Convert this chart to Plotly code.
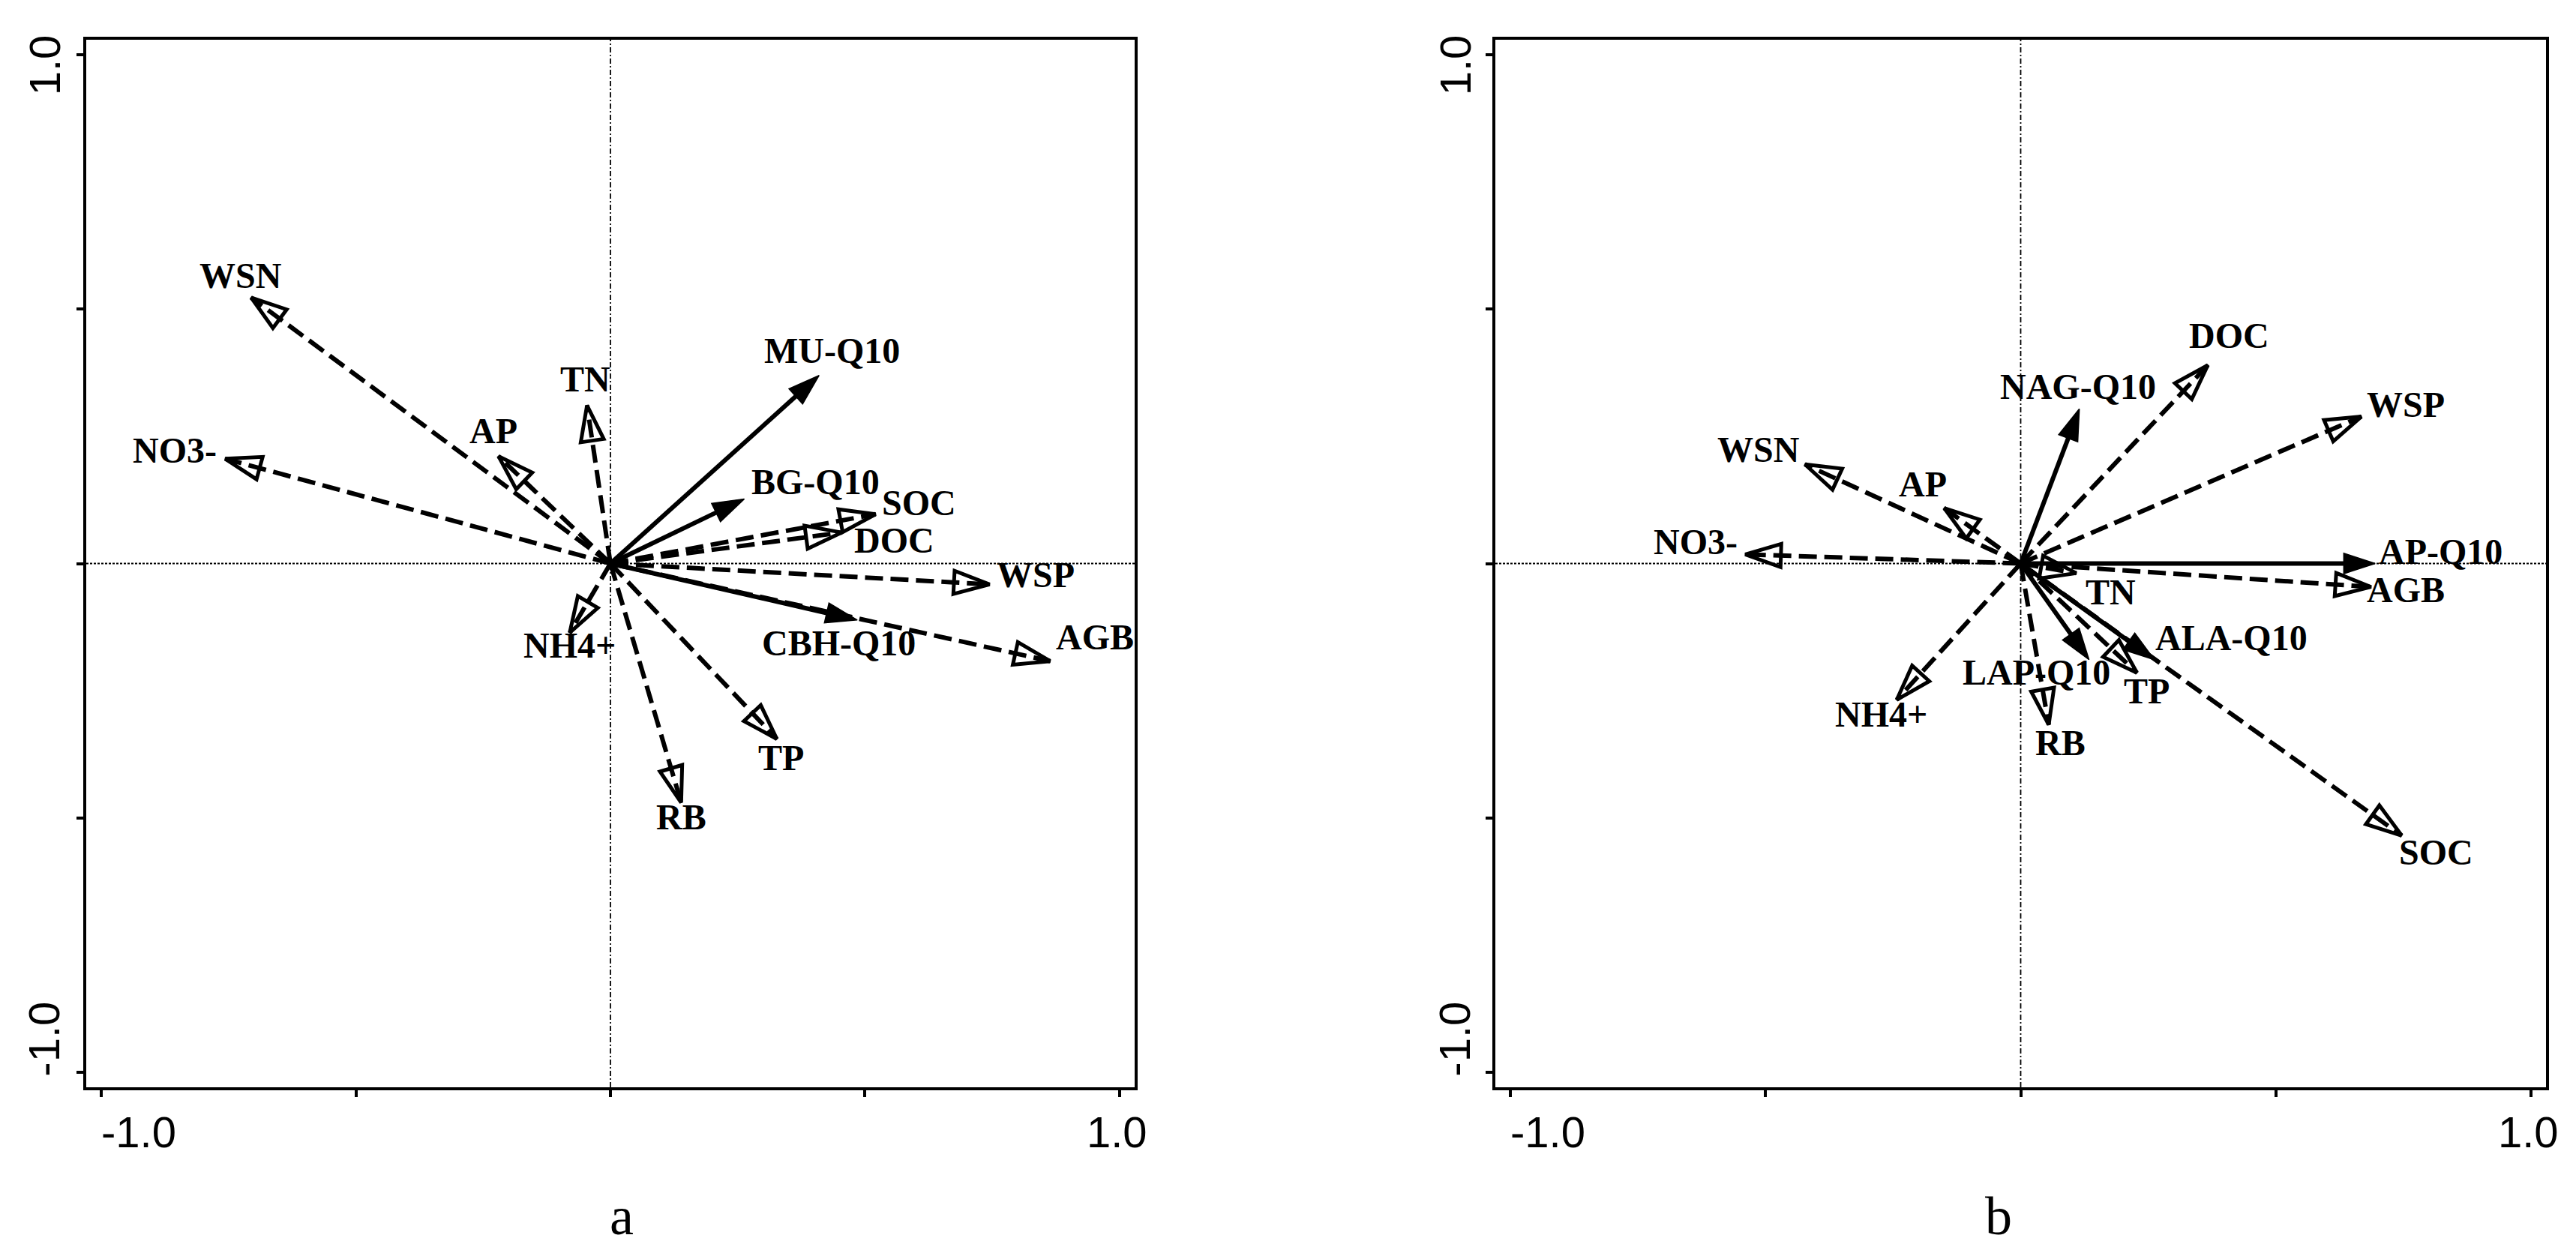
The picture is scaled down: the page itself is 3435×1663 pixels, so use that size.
import plotly.graph_objects as go

W, H = 3435, 1663

# ---------------- data ----------------
a_names = ["WSN", "NO3-", "AP", "TN", "MU-Q10", "BG-Q10", "SOC", "DOC",
           "WSP", "CBH-Q10", "AGB", "NH4+", "TP", "RB"]
a_x = [-0.706, -0.757, -0.220, -0.046, 0.410, 0.263, 0.521, 0.454,
       0.745, 0.485, 0.864, -0.080, 0.327, 0.139]
a_y = [0.523, 0.206, 0.211, 0.311, 0.370, 0.127, 0.097, 0.061,
       -0.041, -0.111, -0.192, -0.136, -0.345, -0.470]

b_names = ["DOC", "NAG-Q10", "WSP", "WSN", "AP", "NO3-", "AP-Q10", "AGB",
           "TN", "ALA-Q10", "TP", "LAP-Q10", "RB", "NH4+", "SOC"]
b_x = [0.367, 0.115, 0.668, -0.423, -0.150, -0.540, 0.695, 0.687,
       0.109, 0.262, 0.228, 0.134, 0.055, -0.243, 0.747]
b_y = [0.390, 0.304, 0.289, 0.195, 0.109, 0.018, 0.0, -0.046,
       -0.019, -0.189, -0.215, -0.189, -0.317, -0.268, -0.535]

panel_titles = ["a", "b"]
tick_vals = [-1.0, -0.5, 0.0, 0.5, 1.0]
tick_label_text = ["-1.0", "1.0"]

# ---------------- label placement (pixel offsets from arrow tip) ----------------
a_label_off = {"WSN": (-14, -19), "NO3-": (-67, -1), "AP": (-7, -24), "TN": (-2, -25),
               "MU-Q10": (17, -23), "BG-Q10": (95, -13), "SOC": (58, -5), "DOC": (70, 20),
               "WSP": (61, -3), "CBH-Q10": (-25, 41), "AGB": (60, -22), "NH4+": (0, 27),
               "TP": (6, 35), "RB": (0, 29)}
b_label_off = {"DOC": (28, -30), "NAG-Q10": (-2, -20), "WSP": (59, -6), "WSN": (-62, -10),
               "AP": (-28, -22), "NO3-": (-66, -7), "AP-Q10": (87, -6), "AGB": (46, 14),
               "TN": (46, 35), "ALA-Q10": (103, -19), "TP": (13, 34), "LAP-Q10": (-70, 27),
               "RB": (16, 34), "NH4+": (-21, 29), "SOC": (46, 32)}
LABEL_RAISE = 10  # plotly centres the text box slightly below the cap-height centre

RNG = [-1.03, 1.03]
xdom = [[107 / W, 1505 / W], [1986 / W, 3387 / W]]
ydom = [1 - 1442 / H, 1 - 45 / H]

LW = 6
HEAD = 50
LABEL_FONT = dict(family="Liberation Serif, Times New Roman, serif", size=48, color="black")
TICK_FONT = dict(family="Liberation Sans, Arial, sans-serif", size=58, color="black")

fig = go.Figure()


def add_panel(names, xs, ys, offs, k):
    xa = "x" if k == 0 else "x2"
    ya = "y" if k == 0 else "y2"
    # reference lines through origin
    fig.add_shape(type="line", xref=xa, yref=ya, x0=RNG[0], x1=RNG[1], y0=0, y1=0,
                  line=dict(color="black", width=1.8, dash="3px,2px"), layer="below")
    fig.add_shape(type="line", xref=xa, yref=ya, x0=0, x1=0, y0=RNG[0], y1=RNG[1],
                  line=dict(color="black", width=1.8, dash="7px,3px,2px,3px"), layer="below")
    # dashed (environmental) first, then solid (Q10)
    order = [i for i in range(len(names)) if not names[i].endswith("Q10")] + \
            [i for i in range(len(names)) if names[i].endswith("Q10")]
    for i in order:
        solid = names[i].endswith("Q10")
        fig.add_trace(go.Scatter(
            x=[0, xs[i]], y=[0, ys[i]], xaxis=xa, yaxis=ya,
            mode="lines+markers", showlegend=False, hoverinfo="skip",
            line=dict(color="black", width=LW, dash="solid" if solid else "24px,10px"),
            marker=dict(symbol="arrow" if solid else "arrow-open",
                        size=[0, HEAD if not solid else HEAD - 6], angleref="previous",
                        color="black", opacity=1,
                        line=dict(color="black", width=5 if not solid else 1.5)),
        ))
        dx, dy = offs[names[i]]
        fig.add_annotation(x=xs[i], y=ys[i], xref=xa, yref=ya, text="<b>%s</b>" % names[i],
                           showarrow=False, xshift=dx, yshift=-dy + LABEL_RAISE,
                           xanchor="center", yanchor="middle", font=LABEL_FONT)
    # tick labels
    fig.add_annotation(x=tick_vals[0], y=1 - 1501 / H, xref=xa, yref="paper",
                       text=tick_label_text[0], showarrow=False, xshift=50,
                       xanchor="center", yanchor="middle", font=TICK_FONT)
    fig.add_annotation(x=tick_vals[-1], y=1 - 1501 / H, xref=xa, yref="paper",
                       text=tick_label_text[1], showarrow=False, xshift=-3,
                       xanchor="center", yanchor="middle", font=TICK_FONT)
    xlab = (51 / W) if k == 0 else (1932 / W)
    fig.add_annotation(x=xlab, y=tick_vals[-1], xref="paper", yref=ya,
                       text=tick_label_text[1], showarrow=False, yshift=-14, textangle=-90,
                       xanchor="center", yanchor="middle", font=TICK_FONT)
    fig.add_annotation(x=xlab, y=tick_vals[0], xref="paper", yref=ya,
                       text=tick_label_text[0], showarrow=False, yshift=44, textangle=-90,
                       xanchor="center", yanchor="middle", font=TICK_FONT)
    # panel title
    tx = (821 / W) if k == 0 else (2657 / W)
    fig.add_annotation(x=tx, y=1 - 1614 / H, xref="paper", yref="paper",
                       text=panel_titles[k], showarrow=False, xanchor="center",
                       yanchor="middle",
                       font=dict(family="Liberation Serif, Times New Roman, serif",
                                 size=72, color="black"))


add_panel(a_names, a_x, a_y, a_label_off, 0)
add_panel(b_names, b_x, b_y, b_label_off, 1)

axis_common = dict(range=RNG, showgrid=False, zeroline=False, showline=True, mirror=True,
                   linecolor="black", linewidth=3.5, ticks="outside", ticklen=9,
                   tickwidth=3.5, tickcolor="black", tickvals=tick_vals,
                   showticklabels=False, fixedrange=True)

fig.update_layout(
    width=W, height=H, margin=dict(l=0, r=0, t=0, b=0),
    paper_bgcolor="white", plot_bgcolor="white",
    xaxis=dict(domain=xdom[0], anchor="y", **axis_common),
    yaxis=dict(domain=ydom, anchor="x", **axis_common),
    xaxis2=dict(domain=xdom[1], anchor="y2", **axis_common),
    yaxis2=dict(domain=ydom, anchor="x2", **axis_common),
)

fig.write_html("out.html")
